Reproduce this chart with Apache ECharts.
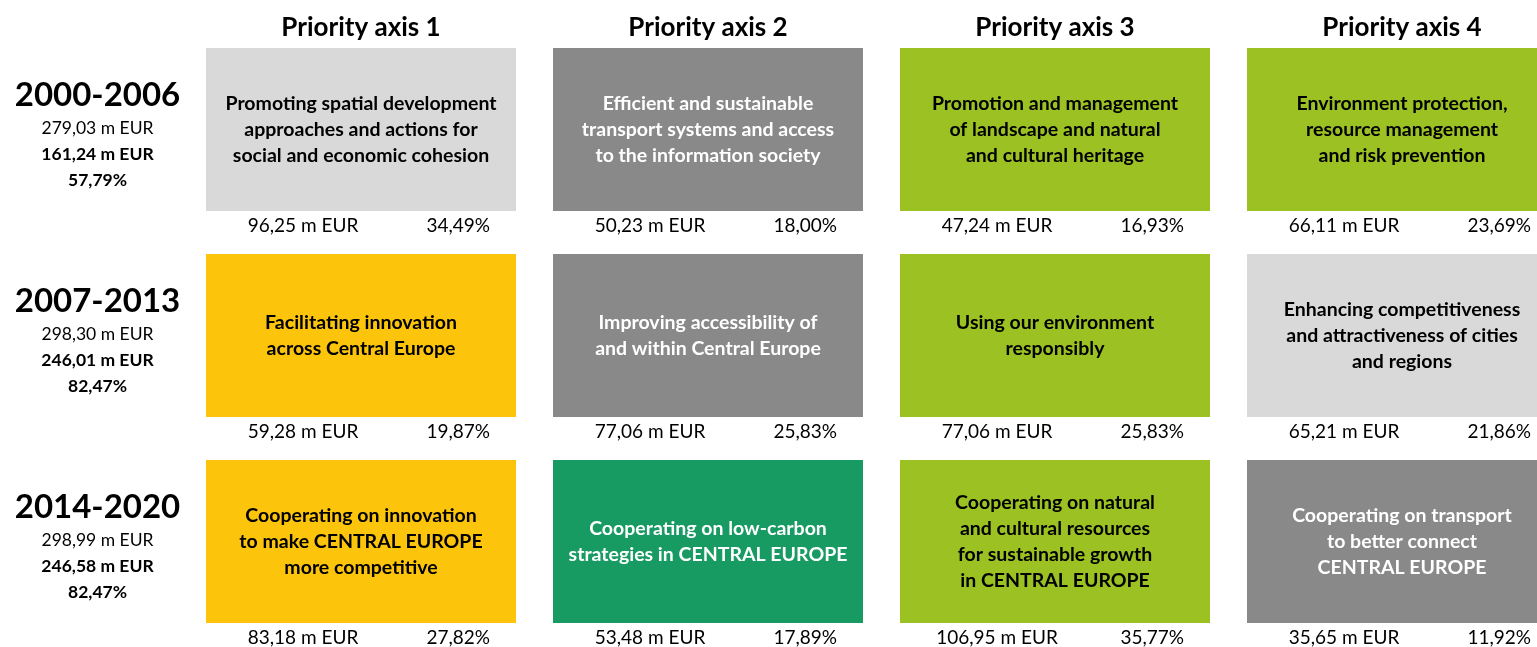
<!DOCTYPE html>
<html>
<head>
<meta charset="utf-8">
<script src="https://cdn.jsdelivr.net/npm/echarts@6/dist/echarts.min.js"></script>
<style>
  html, body { margin: 0; padding: 0; background: #fff; }
  #main { width: 1537px; height: 647px; }
</style>
</head>
<body>
<div id="main"></div>
<script>
// columns / rows
var axes = ['Priority axis 1', 'Priority axis 2', 'Priority axis 3', 'Priority axis 4'];
var periods = ['2000-2006', '2007-2013', '2014-2020'];
var periodTotal = ['279,03 m EUR', '298,30 m EUR', '298,99 m EUR'];
var periodEligible = ['161,24 m EUR', '246,01 m EUR', '246,58 m EUR'];
var periodShare = ['57,79%', '82,47%', '82,47%'];

// themes per period (one row = one period)
var themes2000 = [
  'Promoting spatial development\napproaches and actions for\nsocial and economic cohesion',
  'Efficient and sustainable\ntransport systems and access\nto the information society',
  'Promotion and management\nof landscape and natural\nand cultural heritage',
  'Environment protection,\nresource management\nand risk prevention'
];
var themes2007 = [
  'Facilitating innovation\nacross Central Europe',
  'Improving accessibility of\nand within Central Europe',
  'Using our environment\nresponsibly',
  'Enhancing competitiveness\nand attractiveness of cities\nand regions'
];
var themes2014 = [
  'Cooperating on innovation\nto make CENTRAL EUROPE\nmore competitive',
  'Cooperating on low-carbon\nstrategies in CENTRAL EUROPE',
  'Cooperating on natural\nand cultural resources\nfor sustainable growth\nin CENTRAL EUROPE',
  'Cooperating on transport\nto better connect\nCENTRAL EUROPE'
];
var amounts2000 = ['96,25', '50,23', '47,24', '66,11'];
var amounts2007 = ['59,28', '77,06', '77,06', '65,21'];
var amounts2014 = ['83,18', '53,48', '106,95', '35,65'];
var shares2000 = ['34,49%', '18,00%', '16,93%', '23,69%'];
var shares2007 = ['19,87%', '25,83%', '25,83%', '21,86%'];
var shares2014 = ['27,82%', '17,89%', '35,77%', '11,92%'];
// theme group of each cell (drives colour)
var group2000 = ['social', 'transport', 'environment', 'environment'];
var group2007 = ['innovation', 'transport', 'environment', 'social'];
var group2014 = ['innovation', 'lowcarbon', 'environment', 'transport'];

var palette = {
  social: { fill: '#d9d9d9', text: '#000000' },
  transport: { fill: '#898989', text: '#ffffff' },
  environment: { fill: '#9bc222', text: '#000000' },
  innovation: { fill: '#fcc50c', text: '#000000' },
  lowcarbon: { fill: '#179b62', text: '#ffffff' }
};

var themes = [themes2000, themes2007, themes2014];
var amounts = [amounts2000, amounts2007, amounts2014];
var shares = [shares2000, shares2007, shares2014];
var groups = [group2000, group2007, group2014];

var cells = [];
for (var r = 0; r < periods.length; r++) {
  for (var c = 0; c < axes.length; c++) {
    cells.push([c, r, themes[r][c], amounts[r][c] + ' m EUR', shares[r][c], groups[r][c]]);
  }
}

var FONT = 'Lato, "Open Sans", sans-serif';
var chart = echarts.init(document.getElementById('main'));

chart.setOption({
  animation: false,
  grid: { left: 187.5, top: 26.5, width: 1388, height: 618, outerBoundsMode: 'none' },
  xAxis: {
    type: 'category',
    data: axes,
    position: 'top',
    offset: -14,
    axisLine: { show: false },
    axisTick: { show: false },
    axisLabel: {
      interval: 0, margin: 0,
      fontFamily: FONT, fontSize: 26, fontWeight: 'bold', color: '#000'
    }
  },
  yAxis: {
    type: 'category',
    data: periods,
    inverse: true,
    axisLine: { show: false },
    axisTick: { show: false },
    splitLine: { show: false },
    axisLabel: {
      interval: 0, margin: 90, align: 'center',
      padding: [9, 0, 0, 0],
      fontFamily: FONT,
      formatter: function (v, i) {
        return '{p|' + v + '}\n{t|' + periodTotal[i] + '}\n{b|' + periodEligible[i] + '}\n{b|' + periodShare[i] + '}';
      },
      rich: {
        p: { fontFamily: FONT, fontSize: 33, fontWeight: 'bold', color: '#000', lineHeight: 40 },
        t: { fontFamily: FONT, fontSize: 17.5, color: '#000', lineHeight: 26 },
        b: { fontFamily: FONT, fontSize: 17.5, fontWeight: 'bold', color: '#000', lineHeight: 26 }
      }
    }
  },
  series: [{
    type: 'custom',
    clip: false,
    data: cells,
    renderItem: function (params, api) {
      var center = api.coord([api.value(0), api.value(1)]);
      var band = api.size([1, 1]);
      var w = band[0] * 310 / 347;
      var h = band[1] * 163 / 206;
      var x = center[0] - w / 2;
      var y = center[1] - h / 2;
      var d = cells[params.dataIndex];
      var pal = palette[d[5]];
      return {
        type: 'group',
        children: [
          { type: 'rect', shape: { x: x, y: y, width: w, height: h }, style: { fill: pal.fill } },
          {
            type: 'text',
            style: {
              x: center[0], y: center[1], text: d[2], fill: pal.text,
              font: 'bold 19.5px ' + FONT, lineHeight: 26,
              align: 'center', verticalAlign: 'middle'
            }
          },
          {
            type: 'text',
            style: {
              x: x + 97, y: y + h + 15, text: d[3], fill: '#000',
              font: '19px ' + FONT, align: 'center', verticalAlign: 'middle'
            }
          },
          {
            type: 'text',
            style: {
              x: x + w - 26, y: y + h + 15, text: d[4], fill: '#000',
              font: '19px ' + FONT, align: 'right', verticalAlign: 'middle'
            }
          }
        ]
      };
    }
  }]
});
</script>
</body>
</html>
